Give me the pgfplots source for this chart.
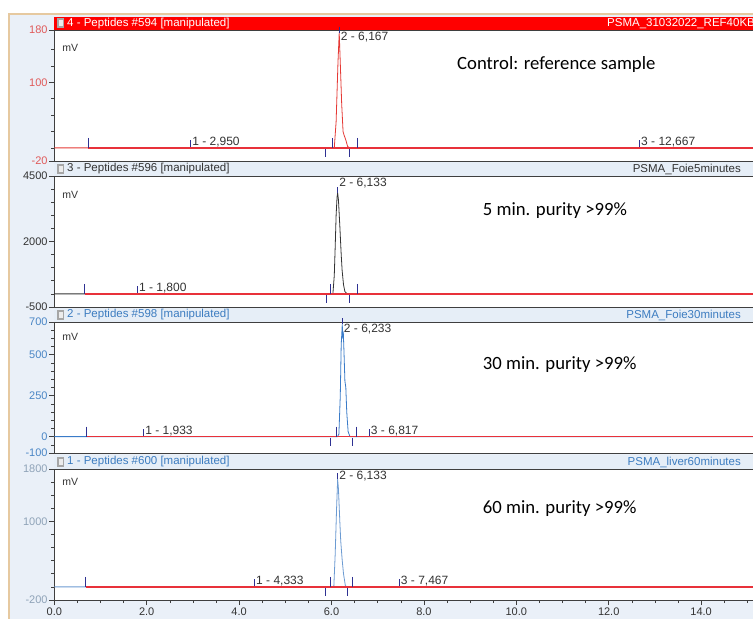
\documentclass[border=0pt]{standalone}
\usepackage{pgfplots}
\pgfplotsset{compat=1.18}
\usepackage{fontspec}
\setmainfont{Liberation Sans}
\newfontfamily\calfont{Carlito}
\definecolor{framec}{HTML}{E6C9A0}
\definecolor{panelbg}{HTML}{EAF0F8}
\definecolor{hdr}{HTML}{E6EEF7}
\definecolor{hred}{HTML}{FF0000}
\definecolor{tred}{HTML}{E53935}
\definecolor{basered}{HTML}{E8313A}
\definecolor{tickblue}{HTML}{2E3192}
\definecolor{tblue}{HTML}{3A7BC8}
\definecolor{tlblue}{HTML}{6C9BD2}
\definecolor{lblred}{HTML}{E05A5A}
\definecolor{lblblue}{HTML}{4A86C5}
\definecolor{lblgrey}{HTML}{8FA3B8}
\definecolor{axgrey}{HTML}{3F3F3F}
\definecolor{txtgrey}{HTML}{333333}
\definecolor{hdrblue}{HTML}{3C7CC0}
\pgfplotsset{
  panel/.style={scale only axis, width=716.1pt, height=131pt, xmin=0, xmax=15.5,
    anchor=south west, axis line style={axgrey, line width=0.9pt},
    tick align=outside, tick pos=left, xtick=\empty,
    major tick length=5pt, minor tick length=3pt,
    every tick/.style={axgrey, line width=0.7pt},
    every minor tick/.style={axgrey, line width=0.6pt},
    yticklabel style={font=\fontsize{11}{13}\selectfont, inner sep=1.5pt},
    axis background/.style={fill=white}, clip=false},
  upt/.style={only marks, mark=|, mark size=5pt, mark options={yshift=5pt, draw=tickblue, line width=0.9pt}, forget plot},
  dnt/.style={only marks, mark=|, mark size=4pt, mark options={yshift=-5pt, draw=tickblue, line width=0.9pt}, forget plot},
  lbt/.style={only marks, mark=|, mark size=3.5pt, mark options={yshift=4pt, draw=tickblue, line width=0.8pt}, forget plot},
  apt/.style={only marks, mark=|, mark size=3pt, mark options={yshift=3pt, draw=tickblue, line width=0.8pt}, forget plot},
  trace/.style={line width=0.8pt, line join=round},
  base/.style={basered, line width=1.3pt},
}
\tikzset{
  pklbl/.style={anchor=base west, xshift=1.5pt, yshift=2.5pt, text=txtgrey, font=\fontsize{12}{14}\selectfont, inner sep=0pt},
  aplbl/.style={anchor=north west, xshift=1.5pt, yshift=-2pt, text=txtgrey, font=\fontsize{12}{14}\selectfont, inner sep=0pt},
}
\begin{document}
\begin{tikzpicture}[x=1pt,y=1pt]
\fill[white] (0,0) rectangle (753,619);
\fill[panelbg] (9,-5) rectangle (760,605);
\draw[framec, line width=2pt] (9,-5) -- (9,605) -- (760,605);
% headers
\fill[hred] (54.3,589) rectangle (760,602);
\fill[hdr] (54.3,443) rectangle (760,457);
\fill[hdr] (54.3,297) rectangle (760,311);
\fill[hdr] (54.3,150) rectangle (760,164);
\foreach \yc in {595.5,450,304,157}{
  \fill[gray!70] (57,\yc-5) rectangle (64,\yc+5);
  \fill[white!85!gray] (58.5,\yc-3) rectangle (62.5,\yc+3);
}
\node[anchor=west, text=white, font=\fontsize{11.5}{13}\selectfont, inner sep=0pt] at (67,595.5) {4 - Peptides \#594 [manipulated]};
\node[anchor=west, text=white, font=\fontsize{11.5}{13}\selectfont, inner sep=0pt] at (607,595.5) {PSMA\_31032022\_REF40KB};
\node[anchor=west, text=txtgrey, font=\fontsize{11.5}{13}\selectfont, inner sep=0pt] at (67,450) {3 - Peptides \#596 [manipulated]};
\node[anchor=east, text=txtgrey, font=\fontsize{11.5}{13}\selectfont, inner sep=0pt] at (741,450) {PSMA\_Foie5minutes};
\node[anchor=west, text=hdrblue, font=\fontsize{11.5}{13}\selectfont, inner sep=0pt] at (67,304) {2 - Peptides \#598 [manipulated]};
\node[anchor=east, text=hdrblue, font=\fontsize{11.5}{13}\selectfont, inner sep=0pt] at (741,304) {PSMA\_Foie30minutes};
\node[anchor=west, text=hdrblue, font=\fontsize{11.5}{13}\selectfont, inner sep=0pt] at (67,157) {1 - Peptides \#600 [manipulated]};
\node[anchor=east, text=hdrblue, font=\fontsize{11.5}{13}\selectfont, inner sep=0pt] at (741,157) {PSMA\_liver60minutes};

% Panel 1
\begin{axis}[panel, at={(54.3pt,458pt)}, ymin=-20, ymax=180, ytick={-20,100,180}, yticklabels={-20,100,180},
  minor ytick={0,25,50,75,125,150}, yticklabel style={text=lblred}]
\addplot[tred, trace] coordinates {(0,0) (6.06,0) (6.10,40) (6.14,130) (6.167,176) (6.19,130) (6.22,68) (6.25,25) (6.27,20) (6.29,16) (6.31,12) (6.35,2) (6.40,0) (15.5,0)};
\addplot[base] coordinates {(0.73,0) (15.5,0)};
\addplot[upt] coordinates {(0.73,0) (6.03,0) (6.57,0)};
\addplot[dnt] coordinates {(5.87,0) (6.39,0)};
\addplot[lbt] coordinates {(2.95,0) (12.667,0)};
\addplot[apt] coordinates {(6.167,176)};
\node[pklbl] at (axis cs:2.95,0) {1 - 2,950};
\node[pklbl] at (axis cs:12.667,0) {3 - 12,667};
\node[aplbl] at (axis cs:6.167,180) {2 - 6,167};
\node[anchor=west, text=txtgrey, font=\fontsize{10.5}{12}\selectfont] at (axis cs:0.1,153) {mV};
\end{axis}

% Panel 2
\begin{axis}[panel, at={(54.3pt,312pt)}, ymin=-500, ymax=4500, ytick={-500,2000,4500}, yticklabels={-500,2000,4500},
  minor ytick={0,500,1000,1500,2500,3000,3500,4000}, yticklabel style={text=txtgrey}]
\addplot[txtgrey, trace] coordinates {(0,0) (6.03,0) (6.06,700) (6.08,1800) (6.10,3000) (6.12,3700) (6.133,3850) (6.15,3600) (6.18,2600) (6.21,1500) (6.23,900) (6.26,350) (6.29,90) (6.33,15) (6.37,0) (15.5,0)};
\addplot[base] coordinates {(0.66,0) (15.5,0)};
\addplot[upt] coordinates {(0.66,0) (5.98,0) (6.57,0)};
\addplot[dnt] coordinates {(5.90,0) (6.39,0)};
\addplot[lbt] coordinates {(1.8,0)};
\addplot[apt] coordinates {(6.133,3850)};
\node[pklbl] at (axis cs:1.8,0) {1 - 1,800};
\node[aplbl] at (axis cs:6.133,4500) {2 - 6,133};
\node[anchor=west, text=txtgrey, font=\fontsize{10.5}{12}\selectfont] at (axis cs:0.1,3790) {mV};
\end{axis}

% Panel 3
\begin{axis}[panel, at={(54.3pt,166pt)}, ymin=-100, ymax=700, ytick={-100,0,250,500,700}, yticklabels={-100,0,250,500,700},
  minor ytick={-50,50,100,150,200,300,350,400,450,550,600,650}, yticklabel style={text=lblblue}]
\addplot[tblue, trace] coordinates {(0,0) (6.13,0) (6.16,15) (6.19,250) (6.21,560) (6.233,685) (6.245,600) (6.255,640) (6.27,520) (6.29,340) (6.31,300) (6.33,150) (6.36,30) (6.40,0) (15.5,0)};
\addplot[base] coordinates {(0.70,0) (15.5,0)};
\addplot[upt] coordinates {(0.70,0) (6.10,0) (6.55,0)};
\addplot[dnt] coordinates {(5.97,0) (6.46,0)};
\addplot[lbt] coordinates {(1.933,0) (6.817,0)};
\addplot[apt] coordinates {(6.233,685)};
\node[pklbl] at (axis cs:1.933,0) {1 - 1,933};
\node[pklbl] at (axis cs:6.817,0) {3 - 6,817};
\node[aplbl] at (axis cs:6.233,700) {2 - 6,233};
\node[anchor=west, text=txtgrey, font=\fontsize{10.5}{12}\selectfont] at (axis cs:0.1,610) {mV};
\end{axis}

% Panel 4
\begin{axis}[panel, at={(54.3pt,19pt)}, ymin=-200, ymax=1800, ytick={-200,1000,1800}, yticklabels={-200,1000,1800},
  minor ytick={0,200,400,600,800,1200,1400,1600}, yticklabel style={text=lblgrey},
  xtick={0,2,4,6,8,10,12,14}, xticklabels={0.0,2.0,4.0,6.0,8.0,10.0,12.0,14.0},
  minor xtick={0.5,1,1.5,2.5,3,3.5,4.5,5,5.5,6.5,7,7.5,8.5,9,9.5,10.5,11,11.5,12.5,13,13.5,14.5,15},
  xticklabel style={font=\fontsize{11}{13}\selectfont, text=txtgrey, inner sep=1pt, yshift=-2pt}]
\addplot[tlblue, trace] coordinates {(0,0) (6.05,0) (6.08,500) (6.11,1200) (6.133,1640) (6.15,1500) (6.18,1000) (6.20,700) (6.23,420) (6.26,200) (6.30,20) (6.33,0) (15.5,0)};
\addplot[base] coordinates {(0.68,0) (15.5,0)};
\addplot[upt] coordinates {(0.68,0) (5.97,0) (6.46,0)};
\addplot[dnt] coordinates {(5.87,0) (6.35,0)};
\addplot[lbt] coordinates {(4.333,0) (7.467,0)};
\addplot[apt] coordinates {(6.133,1640)};
\node[pklbl] at (axis cs:4.333,0) {1 - 4,333};
\node[pklbl] at (axis cs:7.467,0) {3 - 7,467};
\node[aplbl] at (axis cs:6.133,1800) {2 - 6,133};
\node[anchor=west, text=txtgrey, font=\fontsize{10.5}{12}\selectfont] at (axis cs:0.1,1600) {mV};
\end{axis}

\node[anchor=west, font=\calfont\fontsize{18.7}{21}\selectfont, inner sep=0pt] at (457,554) {Control: reference sample};
\node[anchor=west, font=\calfont\fontsize{18.7}{21}\selectfont, inner sep=0pt] at (482.7,408.3) {5 min. purity >99\%};
\node[anchor=west, font=\calfont\fontsize{18.7}{21}\selectfont, inner sep=0pt] at (482.7,254) {30 min. purity >99\%};
\node[anchor=west, font=\calfont\fontsize{18.7}{21}\selectfont, inner sep=0pt] at (482.7,110) {60 min. purity >99\%};

\pgfresetboundingbox
\useasboundingbox (0,0) rectangle (753,619);
\end{tikzpicture}
\end{document}
